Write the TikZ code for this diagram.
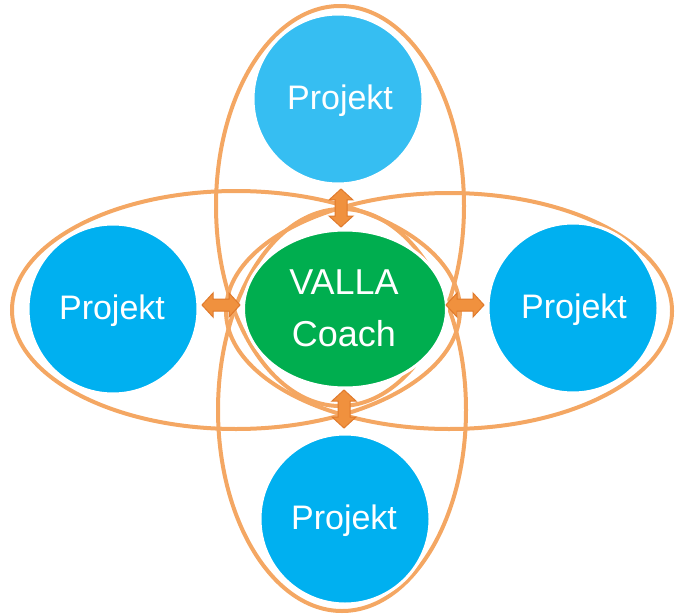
\documentclass[tikz,border=0pt]{standalone}
\usepackage{fontspec}
\setmainfont{Liberation Sans}
\usetikzlibrary{shapes.arrows,shapes.geometric}
\definecolor{orline}{HTML}{F4A763}
\definecolor{arfill}{HTML}{F0913E}
\definecolor{ardraw}{HTML}{E07A2C}
\definecolor{projlight}{HTML}{36BEF2}
\definecolor{projblue}{HTML}{00B0F0}
\definecolor{coachgreen}{HTML}{00AE4F}
\tikzset{
  loop/.style={draw=orline, line width=4pt},
  projcircle/.style={circle, fill=projblue, draw=white, line width=3pt, minimum size=170pt, inner sep=0pt},
  coach/.style={ellipse, fill=coachgreen, draw=white, line width=3pt, minimum width=203pt, minimum height=158pt, inner sep=0pt},
  projtext/.style={text=white, font=\fontsize{34}{40}\selectfont, anchor=base, inner sep=0pt},
  coachtext/.style={text=white, font=\fontsize{36}{52}\selectfont, anchor=base, inner sep=0pt, align=center},
  darrow/.style={double arrow, fill=arfill, draw=ardraw, line width=1pt, minimum height=38pt, inner xsep=0pt, inner ysep=5.5pt, double arrow head extend=6pt, double arrow tip angle=95}
}
\begin{document}
\begin{tikzpicture}[x=1pt, y=-1pt]
\useasboundingbox (0,0) rectangle (679,615);
% orange loops
\draw[loop] (340,206) ellipse [x radius=124, y radius=200];
\draw[loop] (342,410) ellipse [x radius=124, y radius=201];
\draw[loop] (236,310) ellipse [x radius=224, y radius=119];
\draw[loop] (449,311) ellipse [x radius=223, y radius=118];
% project circles
\node[projcircle, fill=projlight] (ptop) at (338,99) {};
\node[projcircle] (pleft) at (113,309) {};
\node[projcircle] (pright) at (573,308) {};
\node[projcircle] (pbottom) at (345,519) {};
\node[coach] (center) at (345,309) {};
% texts
\node[projtext] (ttop) at (340,110) {Projekt};
\node[projtext] (tleft) at (112,319) {Projekt};
\node[projtext] (tright) at (574,318) {Projekt};
\node[projtext] (tbottom) at (344,529) {Projekt};
\node[coachtext] (tvalla) at (344,294) {VALLA};
\node[coachtext] (tcoach) at (344,346) {Coach};
% double arrows
\node[darrow, rotate=90] (atop) at (341,208) {};
\node[darrow, rotate=90] (abottom) at (344,409) {};
\node[darrow] (aleft) at (221,305) {};
\node[darrow] (aright) at (465,305) {};
\end{tikzpicture}
\end{document}
